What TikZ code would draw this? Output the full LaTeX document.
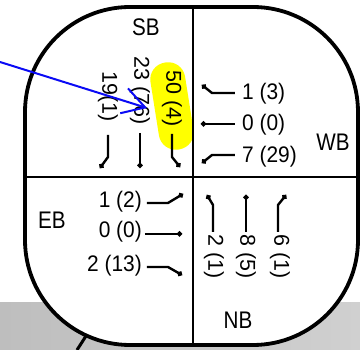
\documentclass[tikz,border=0pt]{standalone}
\usepackage{fontspec}
\setmainfont{Liberation Sans}
\newfontfamily\labfont[FakeStretch=0.86]{Liberation Sans}
\newfontfamily\numfont[FakeStretch=0.93]{Liberation Sans}
\usetikzlibrary{arrows.meta}
\definecolor{bggrayL}{RGB}{190,190,190}
\definecolor{bggrayR}{RGB}{208,208,208}
\definecolor{hiyellow}{RGB}{255,255,0}
\definecolor{arrowblue}{RGB}{10,10,245}
\begin{document}
\begin{tikzpicture}[x=1pt,y=1pt,
  dirlab/.style={font=\labfont\fontsize{24}{26}\selectfont, inner sep=0},
  hnum/.style={font=\numfont\fontsize{22.5}{24}\selectfont, inner sep=0},
  vnum/.style={font=\fontsize{21.5}{24}\selectfont, inner sep=0, rotate=-90},
  mov/.style={line width=2.4pt, -{Circle[length=5pt]}, line join=round},
  divider/.style={line width=2.6pt},
  bordershape/.style={line width=3.8pt, rounded corners=105pt},
]
\useasboundingbox (0,0) rectangle (360,350);
% background
\fill[left color=bggrayL, right color=bggrayR] (0,0) rectangle (360,47);
\draw[line width=3pt] (77,0) -- (86,14);
% shape
\fill[white, rounded corners=105pt] (25,5) rectangle (358,343);
% highlight
\node[fill=hiyellow, minimum width=35pt, minimum height=88pt, rounded corners=17pt, rotate=9, inner sep=0] (hl) at (172,244) {};
% dividers
\draw[divider] (193,5) -- (193,343);
\draw[divider] (25,173) -- (358,173);
\draw[bordershape] (25,5) rectangle (358,343);
% labels
\node[dirlab] (sb) at (146,323) {SB};
\node[dirlab] (wb) at (333,208) {WB};
\node[dirlab] (eb) at (52,130) {EB};
\node[dirlab] (nb) at (238,30) {NB};
% SB
\node[vnum] (sb1) at (108,253.5) {19(1)};
\node[vnum] (sb2) at (140,259) {23 (76)};
\node[vnum] (sb3) at (172,251) {50 (4)};
\draw[mov] (108,215) -- (108,193) -- (100,182);
\draw[mov] (140,217) -- (140,182);
\draw[mov] (172,216) -- (172,193) -- (180,183);
% WB
\node[hnum, anchor=west] (wb1) at (242,256) {1 (3)};
\node[hnum, anchor=west] (wb2) at (242,225) {0 (0)};
\node[hnum, anchor=west] (wb3) at (242,193) {7 (29)};
\draw[mov] (235,257) -- (212,257) -- (202,265);
\draw[mov] (235,226) -- (201,226);
\draw[mov] (235,195) -- (212,195) -- (202,187);
% EB
\node[hnum, anchor=east] (eb1) at (142,148) {1 (2)};
\node[hnum, anchor=east] (eb2) at (142,118) {0 (0)};
\node[hnum, anchor=east] (eb3) at (142,84) {2 (13)};
\draw[mov] (147,147) -- (168,147) -- (183,156);
\draw[mov] (145,116) -- (182,116);
\draw[mov] (147,83) -- (168,83) -- (182,75);
% NB
\node[vnum] (nb1) at (214,93) {2 (1)};
\node[vnum] (nb2) at (246,93) {8 (5)};
\node[vnum] (nb3) at (280,93) {6 (1)};
\draw[mov] (213,118) -- (213,145) -- (207,155);
\draw[mov] (246,118) -- (246,155);
\draw[mov] (278,118) -- (278,145) -- (286,155);
% blue arrow
\coordinate (bs) at (0,288);
\coordinate (bt) at (147,242);
\draw[arrowblue, line width=2pt, -{Straight Barb[length=22pt,width=26pt]}] (bs) -- (bt);
\end{tikzpicture}
\end{document}
